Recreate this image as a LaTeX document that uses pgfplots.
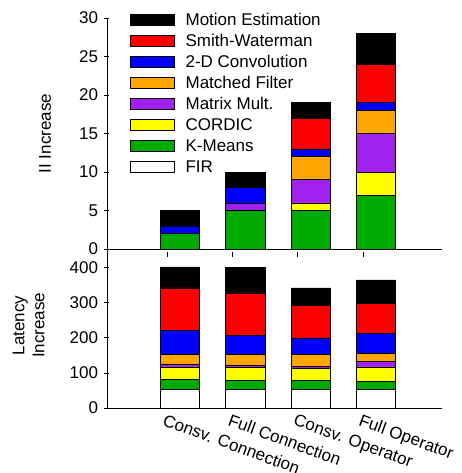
\documentclass[border=0pt]{standalone}
\usepackage{fontspec}
\setmainfont{Liberation Sans}
\usepackage{pgfplots}
\usepackage{pgfplotstable}
\pgfplotsset{compat=1.18}
\definecolor{myorange}{RGB}{255,165,0}
\definecolor{mypurple}{RGB}{160,32,240}
\definecolor{mygreen}{RGB}{0,170,0}
\definecolor{myblue}{RGB}{0,0,255}
\definecolor{myred}{RGB}{255,0,0}
\definecolor{myyellow}{RGB}{255,255,0}

\pgfplotstableread{
x   FIR KM COR MAT MF CONV SW ME
1.2 0   2  0   0   0  1    0  2
2.2 0   5  0   1   0  2    0  2
3.2 0   5  1   3   3  1    4  2
4.2 0   7  3   5   3  1    5  4
}\IItable

\pgfplotstableread{
x   FIR KM COR MAT MF CONV SW  ME
1.2 52  29 36  8   28 68   121 60
2.2 52  26 38  6   31 54   121 72
3.2 54  24 34  7   33 48   92  50
4.2 52  23 42  15  24 57   86  66
}\LatTable

\pgfplotsset{
  mybase/.style={
    scale only axis, width=335bp, xmin=0.082, xmax=5.21,
    axis x line=bottom, axis y line=left,
    axis line style={-, line width=0.8pt},
    ybar stacked, bar width=0.6,
    xtick={1,2,3,4},
    every tick/.style={black, line width=0.8pt},
    major tick length=5bp,
    /pgf/number format/assume math mode=true,
    yticklabel style={xshift=-3bp},
    every axis plot/.append style={draw=black, line width=0.6pt},
  }
}

\begin{document}
\begin{tikzpicture}[font=\fontsize{17bp}{20bp}\selectfont]
\path[use as bounding box] (-107bp,-224bp) rectangle (355bp,249bp);

\begin{axis}[mybase, at={(0,0)}, anchor=south west,
  height=231bp, ymin=0, ymax=30, ytick={0,5,...,30},
  xticklabels={}, x tick style={yshift=-5bp},
  ylabel={II Increase},
  ylabel style={at={(axis description cs:-0.185,0.5)}, anchor=center},
  reverse legend,
  legend cell align=left,
  legend image code/.code={\draw[#1] (0bp,-6bp) rectangle (44bp,4.5bp);},
  legend style={draw=none, fill=none, at={(axis description cs:0.0687,1.023)},
    anchor=north west, inner sep=0pt, outer sep=0pt, row sep=8.5bp, column sep=11bp,
    nodes={inner sep=0pt, text height=12.5bp, text depth=0bp}},
]
\addplot[fill=white] table[x=x,y=FIR]{\IItable};
\addplot[fill=mygreen] table[x=x,y=KM]{\IItable};
\addplot[fill=myyellow] table[x=x,y=COR]{\IItable};
\addplot[fill=mypurple] table[x=x,y=MAT]{\IItable};
\addplot[fill=myorange] table[x=x,y=MF]{\IItable};
\addplot[fill=myblue] table[x=x,y=CONV]{\IItable};
\addplot[fill=myred] table[x=x,y=SW]{\IItable};
\addplot[fill=black] table[x=x,y=ME]{\IItable};
\legend{FIR, K-Means, CORDIC, Matrix Mult., Matched Filter, 2-D Convolution, Smith-Waterman, Motion Estimation}
\end{axis}

\begin{axis}[mybase, at={(0,0)}, anchor=north west,
  height=159bp, ymin=0, ymax=453, ytick={0,100,...,400},
  xticklabels={Consv. Connection, Full Connection, Consv. Operator, Full Operator},
  xticklabel style={rotate=-20, anchor=north west, inner sep=0pt, yshift=-3bp},
  x tick style={draw=none},
  ylabel={Latency\\Increase},
  ylabel style={align=center, at={(axis description cs:-0.234,0.52)}, anchor=center},
]
\addplot[fill=white] table[x=x,y=FIR]{\LatTable};
\addplot[fill=mygreen] table[x=x,y=KM]{\LatTable};
\addplot[fill=myyellow] table[x=x,y=COR]{\LatTable};
\addplot[fill=mypurple] table[x=x,y=MAT]{\LatTable};
\addplot[fill=myorange] table[x=x,y=MF]{\LatTable};
\addplot[fill=myblue] table[x=x,y=CONV]{\LatTable};
\addplot[fill=myred] table[x=x,y=SW]{\LatTable};
\addplot[fill=black] table[x=x,y=ME]{\LatTable};
\end{axis}
\end{tikzpicture}
\end{document}
